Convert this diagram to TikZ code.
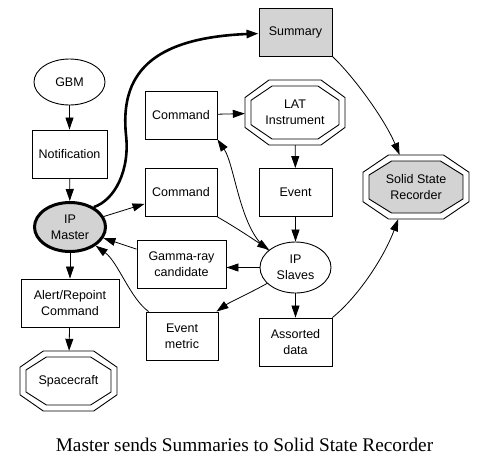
\documentclass[tikz,border=0pt]{standalone}
\usepackage{fontspec}
\setmainfont{Liberation Sans}
\newfontfamily\capfont{Liberation Serif}
\usetikzlibrary{arrows.meta,calc,backgrounds,shapes.geometric}
\definecolor{lg}{RGB}{211,211,211}
\newcommand\octo[4][]{%
  \draw[#1] ($(#2)+({-0.52*#3},{-#4})$) -- ($(#2)+({0.52*#3},{-#4})$)
    -- ($(#2)+({#3},{-0.46*#4})$) -- ($(#2)+({#3},{0.46*#4})$)
    -- ($(#2)+({0.52*#3},{#4})$) -- ($(#2)+({-0.52*#3},{#4})$)
    -- ($(#2)+({-#3},{0.46*#4})$) -- ($(#2)+({-#3},{-0.46*#4})$) -- cycle;}
\tikzset{
  lbl/.style={inner sep=0pt, align=center, font=\fontsize{12.5}{16}\selectfont},
  box/.style={lbl, draw, line width=0.9pt, rectangle, minimum height=48pt},
  ell/.style={lbl, draw, line width=0.9pt, ellipse},
  octbox/.style={lbl, rectangle},
  octline/.style={line width=0.9pt},
  edge/.style={line width=0.8pt, -{Triangle[length=12pt,width=8pt]}},
  bigedge/.style={line width=2.6pt, -{Triangle[length=12pt,width=8pt]}},
}
\begin{document}
\begin{tikzpicture}[x=1pt,y=-1pt]
\useasboundingbox (0,0) rectangle (487,467);
% nodes
\node[box, fill=lg, minimum width=73pt] (sum) at (295.5,32) {Summary};
\node[ell, minimum width=71pt, minimum height=46pt] (gbm) at (69.5,82) {GBM};
\node[box, minimum width=72pt] (c1) at (181,115) {Command};
\node[octbox, minimum width=100pt, minimum height=65pt] (lat) at (295,112.5) {LAT\\Instrument};
\node[box, minimum width=75pt] (notif) at (69.5,154) {Notification};
\node[box, minimum width=72pt] (c2) at (181,192.5) {Command};
\node[box, minimum width=73pt] (ev) at (295.5,192.5) {Event};
\node[octbox, minimum width=106pt, minimum height=64pt] (ssr) at (416,187) {Solid State\\Recorder};
\node[ell, fill=lg, line width=3pt, minimum width=71pt, minimum height=49pt] (m) at (70,227) {IP\\Master};
\node[box, minimum width=89pt] (gr) at (181.5,264) {Gamma-ray\\candidate};
\node[ell, minimum width=71pt, minimum height=51pt] (s) at (295.5,267.5) {IP\\Slaves};
\node[box, minimum width=98pt] (ar) at (70,303) {Alert/Repoint\\Command};
\node[box, minimum width=72pt] (em) at (182,336) {Event\\metric};
\node[box, minimum width=73pt] (ad) at (295.5,342) {Assorted\\data};
\node[octbox, minimum width=97pt, minimum height=60pt] (sc) at (68.5,381) {Spacecraft};
\node[font=\capfont\fontsize{19.3}{22}\selectfont, anchor=base, inner sep=0pt] (cap) at (244.5,451) {Master sends Summaries to Solid State Recorder};
% double octagons
\begin{scope}[on background layer]
\octo[octline]{lat}{50}{32.5}
\octo[octline]{lat}{44}{26.5}
\octo[octline]{ssr}{53}{32}
\octo[octline, fill=lg]{ssr}{47}{26}
\octo[octline]{sc}{48.5}{30}
\octo[octline]{sc}{42.5}{24}
\end{scope}
% edges
\draw[edge] (gbm) -- (notif);
\draw[edge] (notif) -- (m);
\draw[edge] (m) -- (ar);
\draw[edge] (ar) -- (sc);
\draw[edge] (c1) -- (lat);
\draw[edge] (lat) -- (ev);
\draw[edge] (ev) -- (s);
\draw[edge] (s) -- (ad);
\draw[edge] (m) -- (c2);
\draw[edge] (gr) -- (m);
\draw[edge] (s) -- (s -| gr.east);
\draw[edge] (s) .. controls (250,293) and (230,302) .. (em);
\draw[edge] (em) .. controls (130,298) and (118,262) .. (m);
\draw[edge] (c2.south east) .. controls (235,227) and (250,237) .. (s);
\draw[edge] (s) .. controls (240,232) and (235,165) .. (c1.south east);
\draw[bigedge] (m.40) .. controls (115,200) and (130,170) .. (126,135) .. controls (120,75) and (150,38) .. (sum);
\draw[edge] (sum.south east) .. controls (355,78) and (385,120) .. (ssr.117);
\draw[edge] (ad.north east) .. controls (360,295) and (385,255) .. (ssr.-119);
\end{tikzpicture}
\end{document}
